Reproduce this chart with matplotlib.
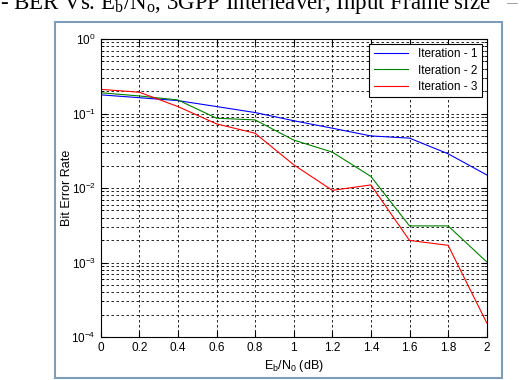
import numpy as np
import matplotlib
matplotlib.use('Agg')
import matplotlib.pyplot as plt
from matplotlib.patches import Rectangle
from matplotlib.ticker import LogLocator, NullFormatter

plt.rcParams['font.family'] = 'Liberation Sans'
plt.rcParams['mathtext.fontset'] = 'custom'
plt.rcParams['mathtext.rm'] = 'Liberation Sans'
plt.rcParams['mathtext.it'] = 'Liberation Sans:italic'

# Eb/N0 (dB) 와 반복 횟수별 BER
ebno = [0, 0.2, 0.4, 0.6, 0.8, 1.0, 1.2, 1.4, 1.6, 1.8, 2.0]
ber_iter1 = [0.178, 0.163, 0.149, 0.124, 0.103, 0.080, 0.0635, 0.050, 0.0467, 0.0288, 0.0150]
ber_iter2 = [0.190, 0.172, 0.152, 0.0865, 0.082, 0.044, 0.0303, 0.0143, 0.0031, 0.0031, 0.00102]
ber_iter3 = [0.211, 0.193, 0.124, 0.0726, 0.0543, 0.0205, 0.0093, 0.011, 0.00198, 0.0017, 0.000155]
labels = ['Iteration - 1', 'Iteration - 2', 'Iteration - 3']
colors = ['#0000ff', '#008000', '#ff0000']

fig = plt.figure(figsize=(5.22, 3.8), dpi=100)
ax = fig.add_axes([100.7 / 522, 1 - 337 / 380, 386 / 522, 298 / 380])

for ber, lab, c in zip([ber_iter1, ber_iter2, ber_iter3], labels, colors):
    ax.semilogy(ebno, ber, color=c, lw=0.8, label=lab)

ax.set_xlim(0, 2)
ax.set_ylim(1e-4, 1)
ax.set_xticks(np.arange(0, 2.01, 0.2))
ax.set_xticklabels(['0', '0.2', '0.4', '0.6', '0.8', '1', '1.2', '1.4', '1.6', '1.8', '2'])
ax.yaxis.set_major_locator(LogLocator(base=10, numticks=10))
ax.yaxis.set_minor_locator(LogLocator(base=10, subs=np.arange(2, 10), numticks=10))
ax.yaxis.set_minor_formatter(NullFormatter())
ax.tick_params(which='both', direction='in', top=True, right=True, labelsize=8.5)
ax.tick_params(which='major', length=4)
ax.tick_params(which='minor', length=2)
ax.grid(True, which='major', color='black', ls=(0, (3, 3)), lw=0.6)
ax.grid(True, which='minor', axis='y', color='black', ls=(0, (3, 3)), lw=0.6)
for s in ax.spines.values():
    s.set_linewidth(0.8)

ax.set_xlabel('E$\\mathregular{_b}$/N$\\mathregular{_0}$ (dB)', fontsize=9, labelpad=3)
ax.set_ylabel('Bit Error Rate', fontsize=9)
ax.yaxis.set_label_coords(-0.071, 0.5)

leg = ax.legend(loc='upper right', fontsize=8.5, fancybox=False, framealpha=1,
                edgecolor='black', borderaxespad=0.4, handlelength=2.9,
                labelspacing=0.35)
leg.get_frame().set_linewidth(0.8)

# 바깥 테두리 + 잘린 제목
fig.patches.append(Rectangle((55 / 522, 1 - 378 / 380), 447 / 522, 356 / 380,
                             transform=fig.transFigure, fill=False,
                             edgecolor='#7f9db9', lw=1.5))
fig.text(0.0, 1 - 9 / 380, '- BER Vs. E$\\mathregular{_b}$/N$\\mathregular{_o}$, 3GPP Interleaver, Input Frame size',
         family='Liberation Serif', fontsize=16.5, va='baseline', ha='left')
fig.text(506 / 522, 1 - 9 / 380, '=', family='Liberation Serif', fontsize=16.5,
         va='baseline', ha='left', color='#999999')

fig.savefig('out.png', dpi=100)
